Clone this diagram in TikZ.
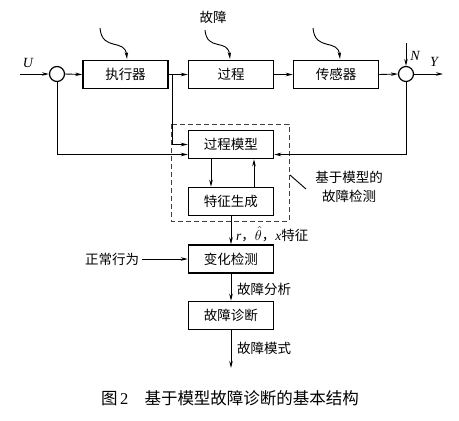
\documentclass[tikz,border=0pt]{standalone}
\usepackage{fontspec}
\setmainfont{Liberation Serif}
\newfontfamily\cjk{Noto Sans CJK SC}
\newcommand\latit[1]{{\rmfamily\itshape #1}}
\usetikzlibrary{arrows.meta,calc}
\begin{document}
\begin{tikzpicture}[x=1pt,y=-1pt,
  every node/.style={font=\cjk\fontsize{13.5}{16}\selectfont},
  blk/.style={draw,line width=1.5pt,minimum width=85pt,minimum height=28pt,inner sep=0pt},
  sumc/.style={draw,circle,line width=1.2pt,minimum size=15pt,inner sep=0pt},
  conn/.style={line width=0.9pt},
  arr/.style={conn,-{Stealth[length=7pt,width=3.5pt]}},
  lbl/.style={inner sep=0pt}]
\useasboundingbox (0,0) rectangle (459,421);
% nodes
\node[sumc] (s1) at (57,74) {};
\node[sumc] (s2) at (406,74) {};
\node[blk] (act) at (125.5,74.5) {执行器};
\node[blk] (proc) at (231,74.5) {过程};
\node[blk] (sens) at (336,74.5) {传感器};
\node[blk] (pm) at (231,144.5) {过程模型};
\node[blk] (fg) at (231,201.5) {特征生成};
\node[blk] (cd) at (231,259) {变化检测};
\node[blk] (fd) at (231,315.5) {故障诊断};
\draw[dashed,line width=0.8pt,dash pattern=on 5pt off 3pt,black!75] (171,124) rectangle (289,221);
% coordinates
\coordinate (uin) at (20,74);
\coordinate (nin) at (406,43);
\coordinate (yout) at (443,74);
\coordinate (br) at (172,74);
\coordinate (fout) at (231,368);
\coordinate (c1) at (100,28);
\coordinate (c1e) at (127,59);
\coordinate (c2) at (205,30);
\coordinate (c2e) at (230,59);
\coordinate (c3) at (313,28);
\coordinate (c3e) at (340,59);
\coordinate (l1) at (290,175);
\coordinate (l2) at (306,189);
% labels
\node[lbl,font=\rmfamily\itshape\fontsize{14}{16}\selectfont] (U) at (28,63) {U};
\node[lbl,font=\rmfamily\itshape\fontsize{14}{16}\selectfont] (N) at (415,56) {N};
\node[lbl,font=\rmfamily\itshape\fontsize{14}{16}\selectfont] (Y) at (434,62) {Y};
\node[lbl] (gz) at (213,17) {故障};
\node[lbl] (zc) at (112,259) {正常行为};
\node[lbl,align=center,font=\cjk\fontsize{13.5}{19}\selectfont] (jy) at (349,187) {基于模型的\\故障检测};
\node[lbl,anchor=west] (tz) at (236,234) {\latit{r}，$\hat{\theta}$，\latit{x}特征};
\node[lbl,anchor=west] (fx) at (237,289) {故障分析};
\node[lbl,anchor=west] (ms) at (237,348) {故障模式};
\node[lbl,font=\rmfamily\fontsize{16.5}{18}\selectfont] (cap) at (230,398) {{\cjk 图}\,2\hspace{16pt}{\cjk 基于模型故障诊断的基本结构}};
% connectors
\draw[arr] (uin) -- (s1.west);
\draw[arr] (s1.east) -- (act.west);
\draw[arr] (act.east) -- (proc.west);
\draw[arr] (proc.east) -- (sens.west);
\draw[arr] (sens.east) -- (s2.west);
\draw[arr] (nin) -- (s2.north);
\draw[arr] (s2.east) -- (yout);
\draw[arr] (br) |- (pm.west);
\draw[arr] (s1.south) |- ($(pm.west)+(0,10)$);
\draw[arr] (s2.south) |- ($(pm.east)+(0,10)$);
\draw[arr] ($(pm.south)+(-20,0)$) -- ($(fg.north)+(-20,0)$);
\draw[arr] ($(fg.north)+(23,0)$) -- ($(pm.south)+(23,0)$);
\draw[arr] (fg.south) -- (cd.north);
\draw[arr] (zc.east) ++(3,0) -- (cd.west);
\draw[arr] (cd.south) -- (fd.north);
\draw[arr] (fd.south) -- (fout);
\draw[arr] (c1) .. controls (102,52) and (125,38) .. (c1e);
\draw[arr] (c2) .. controls (207,52) and (228,38) .. (c2e);
\draw[arr] (c3) .. controls (315,52) and (338,38) .. (c3e);
\draw[conn] (l1) -- (l2);
\end{tikzpicture}
\end{document}
